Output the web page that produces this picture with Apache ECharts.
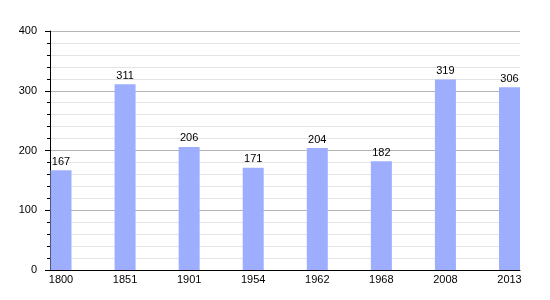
<!DOCTYPE html>
<html>
<head>
<meta charset="utf-8">
<script src="https://cdn.jsdelivr.net/npm/echarts@6/dist/echarts.min.js"></script>
<style>html,body{margin:0;padding:0;background:#fff}#c{width:550px;height:300px}</style>
</head>
<body>
<div id="c"></div>
<script>
const categories = ['1800','1851','1901','1954','1962','1968','2008','2013'];
const population = [167, 311, 206, 171, 204, 182, 319, 306];
const yTicks = [0, 100, 200, 300, 400];

const chart = echarts.init(document.getElementById('c'), null, {renderer: 'canvas'});
const font = 'Liberation Sans, Arial, sans-serif';
chart.setOption({
  animation: false,
  backgroundColor: '#fff',
  grid: [
    {left: 50, right: 30, top: 31, bottom: 30},
    {left: 61, right: 40.5, top: 31, bottom: 30}
  ],
  xAxis: [
    {type: 'category', gridIndex: 0, data: [''], axisLine: {lineStyle: {color: '#000', width: 1}},
     axisTick: {show: false}, axisLabel: {show: false}, splitLine: {show: false}},
    {type: 'category', gridIndex: 1, data: categories, boundaryGap: false,
     axisLine: {show: false}, axisTick: {show: false}, splitLine: {show: false},
     axisLabel: {color: '#000', fontSize: 11, fontFamily: font, margin: 4}}
  ],
  yAxis: [
    {type: 'value', gridIndex: 0, min: yTicks[0], max: yTicks[yTicks.length-1], interval: 100,
     axisLine: {show: true, lineStyle: {color: '#000'}},
     axisTick: {show: true, length: 5, lineStyle: {color: '#000'}},
     minorTick: {show: true, splitNumber: 5, length: 3, lineStyle: {color: '#000'}},
     splitLine: {show: true, lineStyle: {color: '#b4b4b4', width: 1}},
     minorSplitLine: {show: true, lineStyle: {color: '#e4e4e4', width: 1}},
     axisLabel: {color: '#000', fontSize: 11, fontFamily: font, margin: 13}},
    {type: 'value', gridIndex: 1, min: 0, max: 400, show: false, splitLine: {show: false}}
  ],
  series: [{
    type: 'bar', xAxisIndex: 1, yAxisIndex: 1, data: population, barWidth: 21,
    itemStyle: {color: '#9eaefe'},
    label: {show: true, position: 'top', distance: 3, color: '#000', fontSize: 11, fontFamily: font}
  }]
});
</script>
</body>
</html>
